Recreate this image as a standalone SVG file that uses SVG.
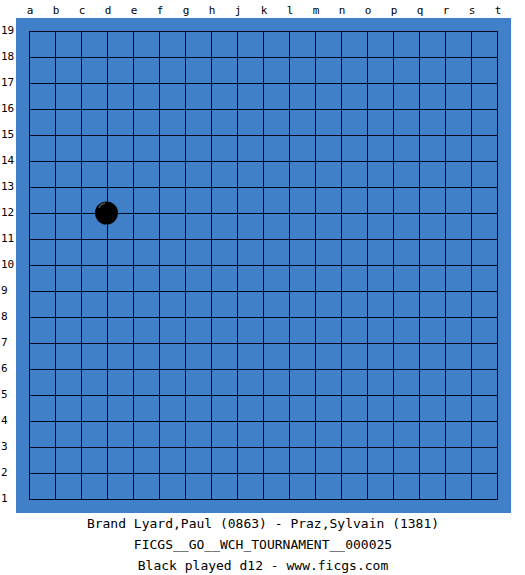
<svg xmlns="http://www.w3.org/2000/svg" width="525" height="575" viewBox="0 0 525 575">
<style>
.lbl{font-family:"DejaVu Sans Mono","Liberation Mono",monospace;font-size:11px;fill:#000}
.col{text-anchor:middle}
.cap{font-family:"DejaVu Sans Mono","Liberation Mono",monospace;font-size:13px;fill:#000;text-anchor:middle}
.grid line{stroke:#000a1e;stroke-width:1}
</style>
<rect width="525" height="575" fill="#fff"/>
<rect id="board" x="16" y="18" width="495" height="495" fill="#4080c8"/>
<g id="grid" class="grid">
<line x1="29" y1="31.5" x2="497" y2="31.5"/><line x1="29" y1="57.5" x2="497" y2="57.5"/><line x1="29" y1="83.5" x2="497" y2="83.5"/><line x1="29" y1="109.5" x2="497" y2="109.5"/><line x1="29" y1="135.5" x2="497" y2="135.5"/><line x1="29" y1="161.5" x2="497" y2="161.5"/><line x1="29" y1="187.5" x2="497" y2="187.5"/><line x1="29" y1="213.5" x2="497" y2="213.5"/><line x1="29" y1="239.5" x2="497" y2="239.5"/><line x1="29" y1="265.5" x2="497" y2="265.5"/><line x1="29" y1="291.5" x2="497" y2="291.5"/><line x1="29" y1="317.5" x2="497" y2="317.5"/><line x1="29" y1="343.5" x2="497" y2="343.5"/><line x1="29" y1="369.5" x2="497" y2="369.5"/><line x1="29" y1="395.5" x2="497" y2="395.5"/><line x1="29" y1="421.5" x2="497" y2="421.5"/><line x1="29" y1="447.5" x2="497" y2="447.5"/><line x1="29" y1="473.5" x2="497" y2="473.5"/><line x1="29" y1="499.5" x2="497" y2="499.5"/>
<line x1="29.5" y1="31" x2="29.5" y2="500"/><line x1="55.5" y1="31" x2="55.5" y2="500"/><line x1="81.5" y1="31" x2="81.5" y2="500"/><line x1="107.5" y1="31" x2="107.5" y2="500"/><line x1="133.5" y1="31" x2="133.5" y2="500"/><line x1="159.5" y1="31" x2="159.5" y2="500"/><line x1="185.5" y1="31" x2="185.5" y2="500"/><line x1="211.5" y1="31" x2="211.5" y2="500"/><line x1="237.5" y1="31" x2="237.5" y2="500"/><line x1="263.5" y1="31" x2="263.5" y2="500"/><line x1="289.5" y1="31" x2="289.5" y2="500"/><line x1="315.5" y1="31" x2="315.5" y2="500"/><line x1="341.5" y1="31" x2="341.5" y2="500"/><line x1="367.5" y1="31" x2="367.5" y2="500"/><line x1="393.5" y1="31" x2="393.5" y2="500"/><line x1="419.5" y1="31" x2="419.5" y2="500"/><line x1="445.5" y1="31" x2="445.5" y2="500"/><line x1="471.5" y1="31" x2="471.5" y2="500"/><line x1="497.5" y1="31" x2="497.5" y2="500"/>
</g>
<g id="columns" class="lbl col">
<text x="30" y="14">a</text><text x="56" y="14">b</text><text x="82" y="14">c</text><text x="108" y="14">d</text><text x="134" y="14">e</text><text x="160" y="14">f</text><text x="186" y="14">g</text><text x="212" y="14">h</text><text x="238" y="14">j</text><text x="264" y="14">k</text><text x="290" y="14">l</text><text x="316" y="14">m</text><text x="342" y="14">n</text><text x="368" y="14">o</text><text x="394" y="14">p</text><text x="420" y="14">q</text><text x="446" y="14">r</text><text x="472" y="14">s</text><text x="498" y="14">t</text>
</g>
<g id="rows" class="lbl">
<text x="1" y="34">19</text><text x="1" y="60">18</text><text x="1" y="86">17</text><text x="1" y="112">16</text><text x="1" y="138">15</text><text x="1" y="164">14</text><text x="1" y="190">13</text><text x="1" y="216">12</text><text x="1" y="242">11</text><text x="1" y="268">10</text><text x="1" y="294">9</text><text x="1" y="320">8</text><text x="1" y="346">7</text><text x="1" y="372">6</text><text x="1" y="398">5</text><text x="1" y="424">4</text><text x="1" y="450">3</text><text x="1" y="476">2</text><text x="1" y="502">1</text>
</g>
<g id="stone-d12">
<circle cx="106.5" cy="213" r="11.5" fill="#000"/>
<path d="M99 208 A8 8 0 0 1 105 203" fill="none" stroke="#555" stroke-width="1.5"/>
</g>
<g id="caption" class="cap">
<text x="263" y="528">Brand Lyard,Paul (0863) - Praz,Sylvain (1381)</text>
<text x="263" y="549">FICGS__GO__WCH_TOURNAMENT__000025</text>
<text x="263" y="570">Black played d12 - www.ficgs.com</text>
</g>
</svg>
